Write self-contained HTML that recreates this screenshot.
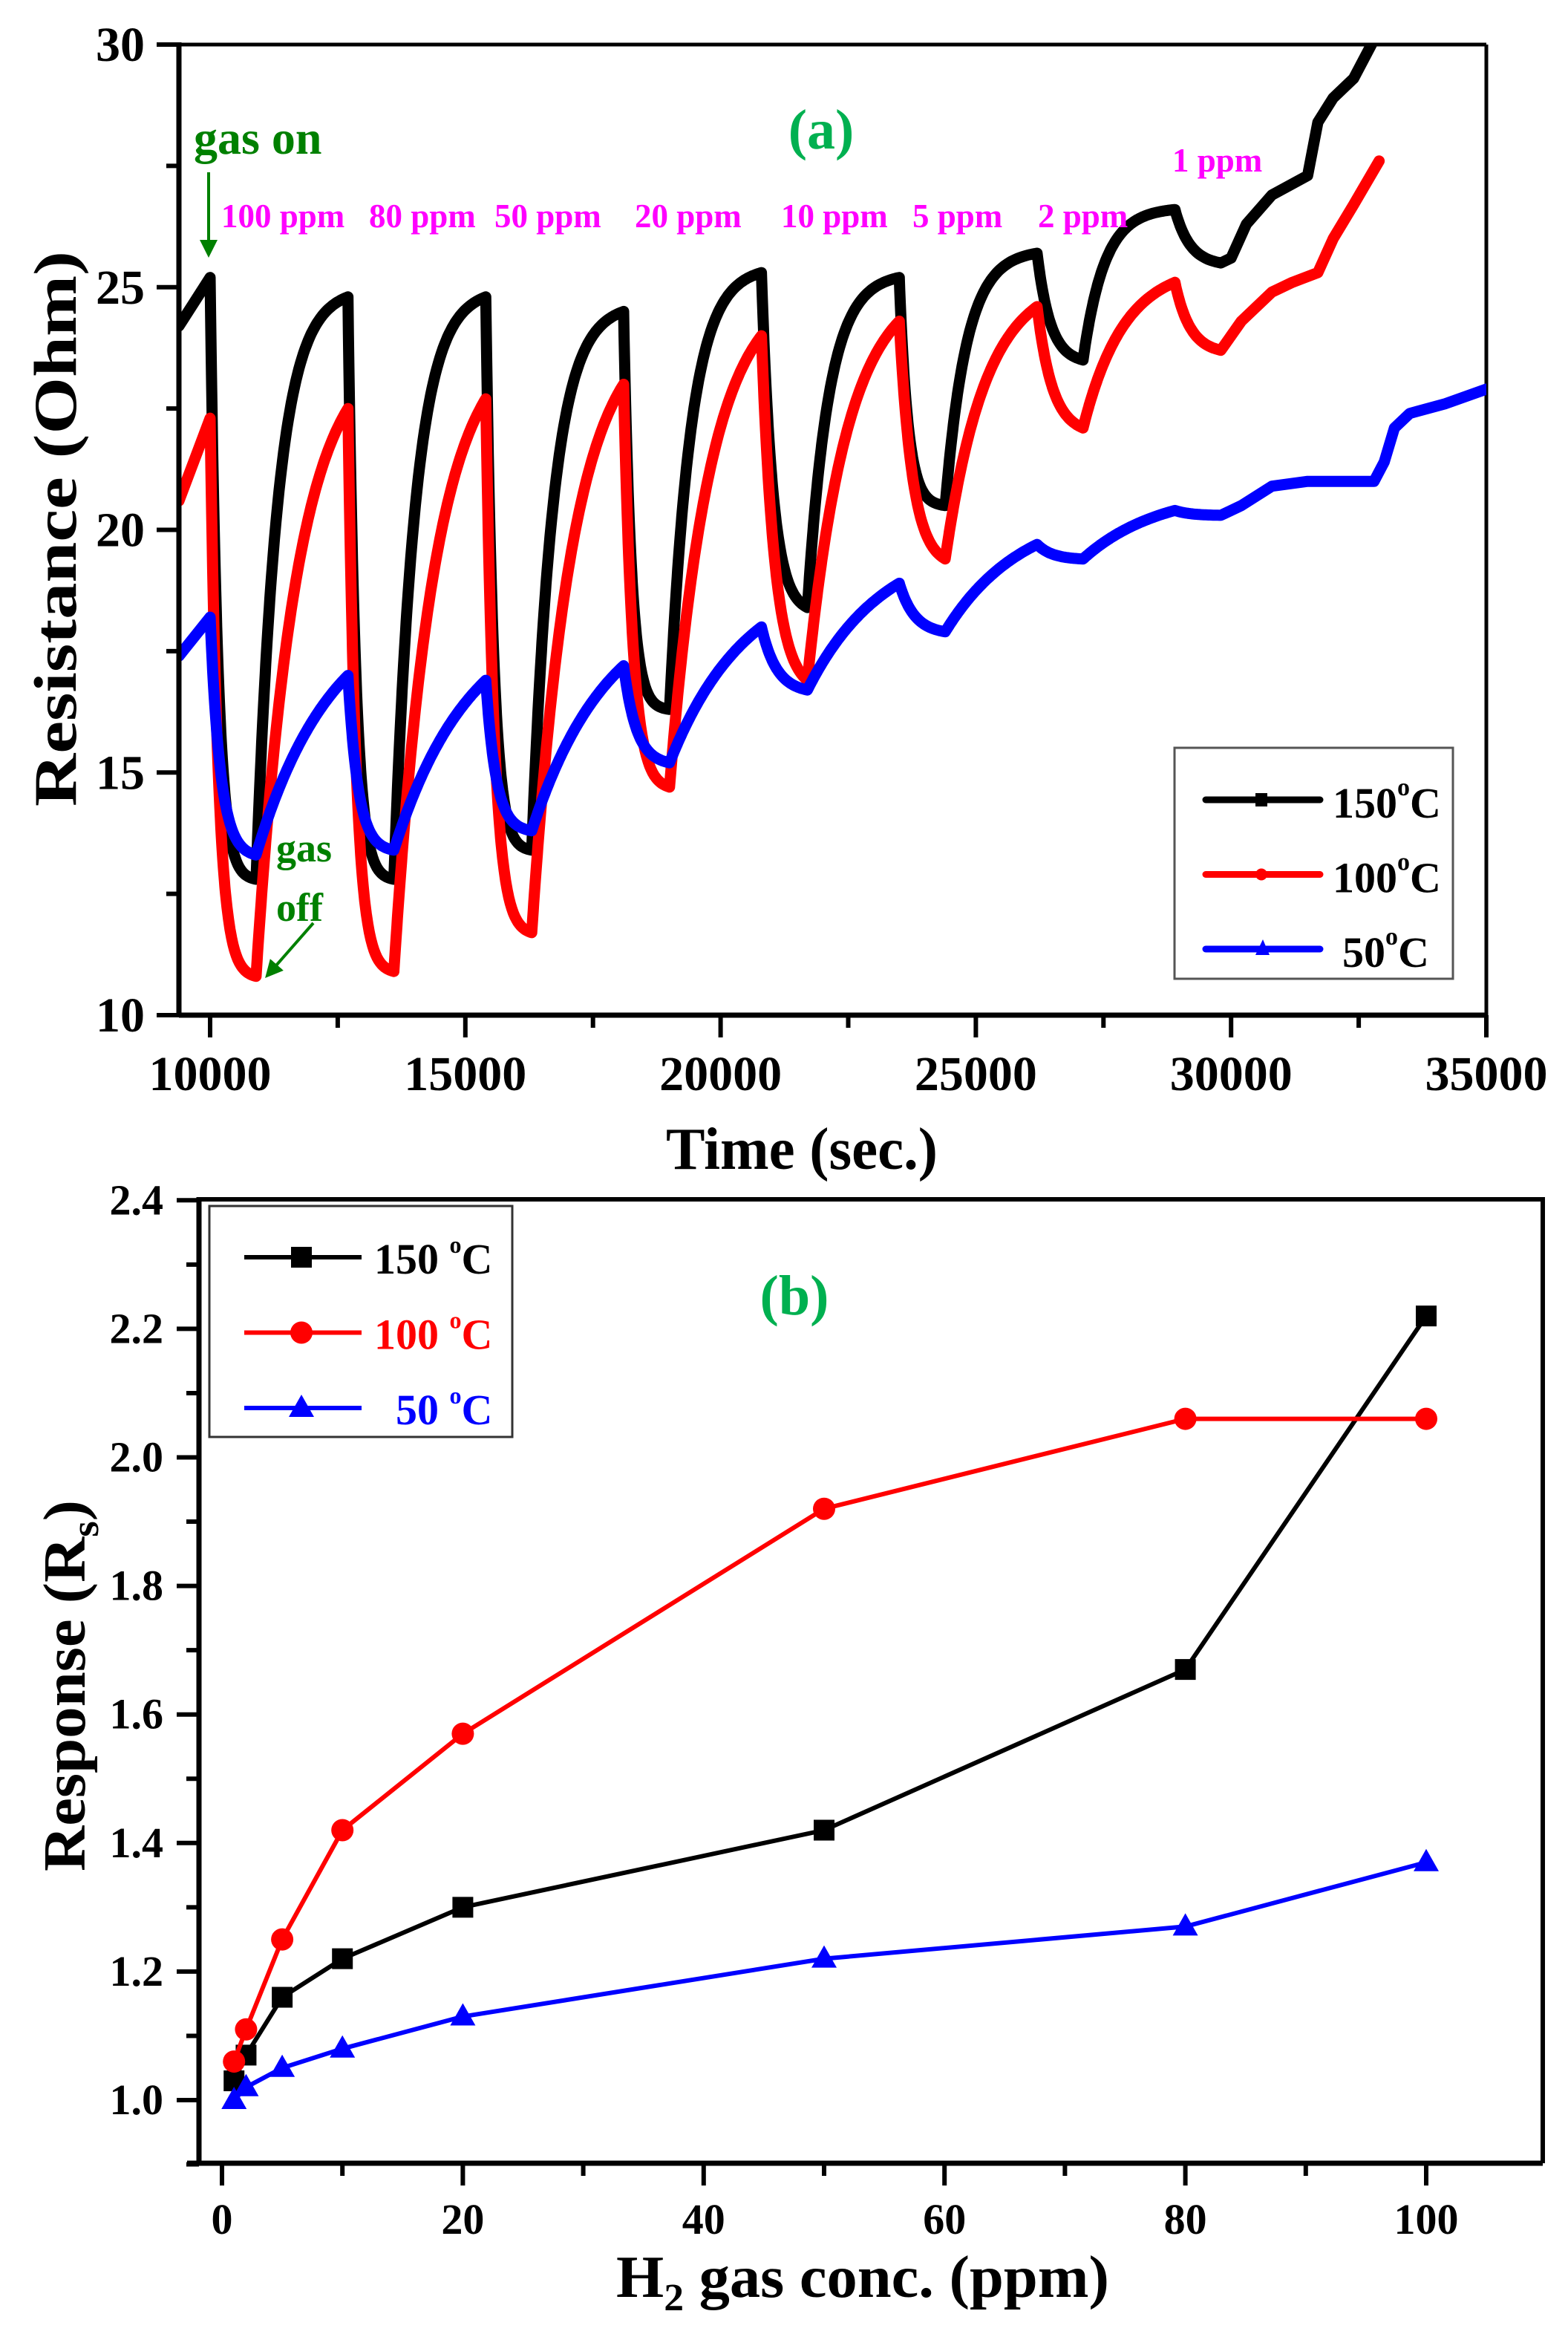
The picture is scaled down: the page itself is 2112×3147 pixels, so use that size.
<!DOCTYPE html>
<html><head><meta charset="utf-8"><style>
html,body{margin:0;padding:0;background:#fff;}
svg{display:block;}
text{font-family:"Liberation Serif",serif;font-weight:bold;}
</style></head><body>
<svg id="fig" width="2112" height="3147" viewBox="0 0 2112 3147" xmlns="http://www.w3.org/2000/svg">
<defs>
<clipPath id="clipA"><rect x="241" y="60" width="1761" height="1307"/></clipPath>
<marker id="arrG" markerWidth="6" markerHeight="6" refX="3" refY="3" orient="auto" markerUnits="strokeWidth"><path d="M0,0 L6,3 L0,6 z" fill="#008000"/></marker>
</defs>
<g id="plotA"></g>
<g id="plotB"></g>
</svg>
<script>
// ---------- Chart (a) data ----------
const gasOnTimes=[10000,12700,15400,18100,20800,23500,26200,28900];
const gasOffTimes=[10900,13600,16300,19000,21700,24400,27100,29800];
const concLabels=["100 ppm","80 ppm","50 ppm","20 ppm","10 ppm","5 ppm","2 ppm","1 ppm"];
const blackStart=24.2;
const blackPeaks=[25.2,24.8,24.8,24.5,25.3,25.2,25.7,26.6];
const blackMins=[12.8,12.8,13.4,16.3,18.4,20.5,23.5,25.5];
const blackTail=[[29800,25.5],[30000,25.6],[30300,26.3],[30800,26.9],[31500,27.3],[31700,28.4],[32000,28.9],[32400,29.3],[32800,30.1],[33000,30.6]];
const redStart=20.6;
const redPeaks=[22.3,22.5,22.7,23.0,24.0,24.3,24.6,25.1];
const redMins=[10.8,10.9,11.7,14.7,16.9,19.4,22.1,23.7];
const redTail=[[29800,23.7],[30200,24.3],[30800,24.9],[31200,25.1],[31700,25.3],[32000,26.0],[32400,26.7],[32900,27.6]];
const blueStart=17.4;
const bluePeaks=[18.2,17.0,16.9,17.2,18.0,18.9,19.7,20.4];
const blueMins=[13.3,13.4,13.8,15.2,16.7,17.9,19.4,20.3];
const blueTail=[[29800,20.3],[30200,20.5],[30800,20.9],[31500,21.0],[32800,21.0],[33000,21.4],[33200,22.1],[33500,22.4],[34200,22.6],[35000,22.9]];
const xTicksA=[10000,15000,20000,25000,30000,35000];
const yTicksA=[10,15,20,25,30];
// ---------- Chart (b) data ----------
const concB=[1,2,5,10,20,50,80,100];
const resp150=[1.03,1.07,1.16,1.22,1.30,1.42,1.67,2.22];
const resp100=[1.06,1.11,1.25,1.42,1.57,1.92,2.06,2.06];
const resp50=[1.00,1.02,1.05,1.08,1.13,1.22,1.27,1.37];
const xTicksB=[0,20,40,60,80,100];
const yTicksB=[1.0,1.2,1.4,1.6,1.8,2.0,2.2,2.4];

const NS="http://www.w3.org/2000/svg";
function mk(parent,tag,attrs,txt){const e=document.createElementNS(NS,tag);for(const k in attrs)e.setAttribute(k,attrs[k]);if(txt!==undefined)e.textContent=txt;parent.appendChild(e);return e;}

const xa=t=>283+(t-10000)/5000*343.8;
const ya=r=>1367-(r-10)*65.35;
const xb=c=>299+c*16.22;
const yb=v=>2828-(v-1)/0.2*173.1;

const A=document.getElementById('plotA');
const B=document.getElementById('plotB');

function buildSeries(start,peaks,mins,tail,tauD,tauR){
  const pts=[[9390,start]];
  pts.push([10000,peaks[0]]);
  for(let i=0;i<gasOnTimes.length;i++){
    const on=gasOnTimes[i],off=gasOffTimes[i],P=peaks[i],M=mins[i];
    const td=tauD[i];
    const D=off-on;
    for(let dt=10;dt<=D;dt+=(dt<300?10:30)){
      const f=(Math.exp(-dt/td)-Math.exp(-D/td))/(1-Math.exp(-D/td));
      pts.push([on+dt,M+(P-M)*f]);
    }
    if(i<gasOnTimes.length-1){
      const nxt=gasOnTimes[i+1],NP=peaks[i+1],T=nxt-off;
      for(let dt=10;dt<=T;dt+=(dt<300?10:30)){
        const f=(1-Math.exp(-dt/tauR))/(1-Math.exp(-T/tauR));
        pts.push([off+dt,M+(NP-M)*f]);
      }
    }
  }
  tail.forEach(p=>pts.push(p));
  return pts;
}

mk(A,'line',{x1:241,y1:60,x2:2002,y2:60,stroke:'#000','stroke-width':5,});
mk(A,'line',{x1:2002,y1:60,x2:2002,y2:1367,stroke:'#000','stroke-width':5,});
const gA=mk(A,'g',{'clip-path':'url(#clipA)',});
const series=[
  {name:'series-150c',color:'#000',pts:buildSeries(blackStart,blackPeaks,blackMins,blackTail,[150,150,150,150,220,170,260,300],420)},
  {name:'series-100c',color:'#ff0000',pts:buildSeries(redStart,redPeaks,redMins,redTail,[160,160,170,180,260,260,300,300],800)},
  {name:'series-50c',color:'#0000ff',pts:buildSeries(blueStart,bluePeaks,blueMins,blueTail,[200,200,200,250,300,300,300,300],1500)}
];
series.forEach(s=>{
  const d=s.pts.map((p,i)=>(i?'L':'M')+xa(p[0]).toFixed(1)+','+ya(p[1]).toFixed(1)).join(' ');
  const el=mk(gA,'path',{d:d,fill:'none',stroke:s.color,'stroke-width':15,'stroke-linejoin':'round','stroke-linecap':'round'});
  
  
});
for(let t=10000;t<=35000;t+=2500){
  const major=(t%5000===0);
  mk(A,'line',{x1:xa(t),y1:1367,x2:xa(t),y2:1367+(major?30:17),stroke:'#000','stroke-width':6});
}
for(let r=10;r<=30;r+=2.5){
  const major=(r%5===0);
  mk(A,'line',{x1:241,y1:ya(r),x2:241-(major?30:17),y2:ya(r),stroke:'#000','stroke-width':6});
}
xTicksA.forEach(t=>{
  const el=mk(A,'text',{x:xa(t),y:1468,'font-size':66,'text-anchor':'middle'},String(t));
  
  
});
yTicksA.forEach(r=>{
  const el=mk(A,'text',{x:195,y:ya(r)+22,'font-size':66,'text-anchor':'end'},String(r));
  
  
});
mk(A,'line',{x1:241,y1:1367,x2:2002,y2:1367,stroke:'#000','stroke-width':7,});
mk(A,'line',{x1:241,y1:57,x2:241,y2:1370,stroke:'#000','stroke-width':7,});
mk(A,'text',{x:1080,y:1574,'font-size':80,'text-anchor':'middle',textLength:366,lengthAdjust:'spacingAndGlyphs',},'Time (sec.)');
mk(A,'text',{x:0,y:0,'font-size':82,'text-anchor':'middle',textLength:748,lengthAdjust:'spacingAndGlyphs',transform:'translate(102,712) rotate(-90)',},'Resistance (Ohm)');
mk(A,'text',{x:1106,y:200,'font-size':76,'text-anchor':'middle',fill:'#00b050',},'(a)');
mk(A,'text',{x:261,y:207,'font-size':64,fill:'#008000',},'gas on');
mk(A,'line',{x1:281,y1:232,x2:281,y2:335,stroke:'#008000','stroke-width':4,'marker-end':'url(#arrG)',});
mk(A,'text',{x:372,y:1160,'font-size':54,fill:'#008000',},'gas');
mk(A,'text',{x:372,y:1240,'font-size':54,fill:'#008000',},'off');
mk(A,'line',{x1:422,y1:1243,x2:365,y2:1308,stroke:'#008000','stroke-width':4,'marker-end':'url(#arrG)',});
const concX=[298,497,666,855,1052,1229,1398,1579];
const concY=[306,306,306,306,306,306,306,231];
concLabels.forEach((l,i)=>{
  const el=mk(A,'text',{x:concX[i],y:concY[i],'font-size':45,fill:'#ff00ff'},l);
  
  
});
const legA=mk(A,'g',{});
mk(legA,'rect',{x:1582,y:1007,width:375,height:311,fill:'#fff',stroke:'#555','stroke-width':3});
const legItemsA=[['150','#000','sq'],['100','#ff0000','ci'],['50','#0000ff','tr']];
legItemsA.forEach((it,i)=>{
  const y=1077+i*100.5;
  const g=mk(legA,'g',{});
  
  
  mk(g,'line',{x1:1624,y1:y,x2:1778,y2:y,stroke:it[1],'stroke-width':9,'stroke-linecap':'round'});
  if(it[2]==='sq')mk(g,'rect',{x:1691,y:y-9,width:16,height:18,fill:it[1]});
  if(it[2]==='ci')mk(g,'circle',{cx:1699,cy:y,r:8,fill:it[1]});
  if(it[2]==='tr')mk(g,'path',{d:`M1701,${y-13} L1710,${y+8} L1691,${y+8} z`,fill:it[1]});
  const tx=(it[0]==='50')?1808:1795;
  const t=mk(g,'text',{x:tx,y:y+24,'font-size':58,fill:'#000'});
  t.appendChild(document.createTextNode(it[0]));
  const sup=document.createElementNS(NS,'tspan');sup.setAttribute('dy',-30);sup.setAttribute('font-size',34);sup.textContent='o';t.appendChild(sup);
  const c=document.createElementNS(NS,'tspan');c.setAttribute('dy',30);c.textContent='C';t.appendChild(c);
});

// ---------- plot (b) ----------
mk(B,'line',{x1:268,y1:1615,x2:2078,y2:1615,stroke:'#000','stroke-width':6,});
mk(B,'line',{x1:2078,y1:1612,x2:2078,y2:2913,stroke:'#000','stroke-width':6,});
for(let c=0;c<=110;c+=10){
  const major=(c%20===0);
  if(xb(c)>2078)continue;
  mk(B,'line',{x1:xb(c),y1:2913,x2:xb(c),y2:2913+(major?30:17),stroke:'#000','stroke-width':6});
}
for(let k=0;k<=15;k++){
  const v=0.9+k*0.1;const major=(k%2===1);
  mk(B,'line',{x1:268,y1:yb(v),x2:268-(major?30:17),y2:yb(v),stroke:'#000','stroke-width':6});
}
mk(B,'line',{x1:252,y1:2913,x2:2078,y2:2913,stroke:'#000','stroke-width':7,});
mk(B,'line',{x1:268,y1:1612,x2:268,y2:2916,stroke:'#000','stroke-width':7,});
xTicksB.forEach(c=>{
  const el=mk(B,'text',{x:xb(c),y:3008,'font-size':58,'text-anchor':'middle'},String(c));
  
  
});
yTicksB.forEach(v=>{
  const el=mk(B,'text',{x:220,y:yb(v)+19,'font-size':58,'text-anchor':'end'},v.toFixed(1));
  
  
});
const tb=mk(B,'text',{x:1162,y:3093,'font-size':80,'text-anchor':'middle',textLength:664,lengthAdjust:'spacingAndGlyphs',});
tb.appendChild(document.createTextNode('H'));
{const s=document.createElementNS(NS,'tspan');s.setAttribute('dy',18);s.setAttribute('font-size',52);s.textContent='2';tb.appendChild(s);
 const s2=document.createElementNS(NS,'tspan');s2.setAttribute('dy',-18);s2.textContent=' gas conc. (ppm)';tb.appendChild(s2);}
const ty=mk(B,'text',{x:0,y:0,'font-size':80,'text-anchor':'middle',textLength:500,lengthAdjust:'spacingAndGlyphs',transform:'translate(114,2270) rotate(-90)',});
ty.appendChild(document.createTextNode('Response (R'));
{const s=document.createElementNS(NS,'tspan');s.setAttribute('dy',18);s.setAttribute('font-size',52);s.textContent='s';ty.appendChild(s);
 const s2=document.createElementNS(NS,'tspan');s2.setAttribute('dy',-18);s2.textContent=')';ty.appendChild(s2);}
mk(B,'text',{x:1070,y:1770,'font-size':76,'text-anchor':'middle',fill:'#00b050',},'(b)');

const seriesB=[
  {name:'series-b-150c',color:'#000',vals:resp150,m:'sq'},
  {name:'series-b-100c',color:'#ff0000',vals:resp100,m:'ci'},
  {name:'series-b-50c',color:'#0000ff',vals:resp50,m:'tr'}
];
function marker(g,type,x,y,color){
  if(type==='sq')return mk(g,'rect',{x:x-14,y:y-14,width:28,height:28,fill:color});
  if(type==='ci')return mk(g,'circle',{cx:x,cy:y,r:15,fill:color});
  return mk(g,'path',{d:`M${x},${y-18} L${x+17},${y+12} L${x-17},${y+12} z`,fill:color});
}
seriesB.forEach(s=>{
  const g=mk(B,'g',{});
  
  
  const pts=concB.map((c,i)=>xb(c).toFixed(1)+','+yb(s.vals[i]).toFixed(1)).join(' ');
  const pl=mk(g,'polyline',{points:pts,fill:'none',stroke:s.color,'stroke-width':6});
  
  
  concB.forEach((c,i)=>{
    const m=marker(g,s.m,xb(c),yb(s.vals[i]),s.color);
    
    
  });
});
const legB=mk(B,'g',{});
mk(legB,'rect',{x:282,y:1624,width:408,height:311,fill:'#fff',stroke:'#333','stroke-width':3});
seriesB.forEach((s,i)=>{
  const y=1693+i*101.5;
  const g=mk(legB,'g',{});
  
  
  mk(g,'line',{x1:329,y1:y,x2:487,y2:y,stroke:s.color,'stroke-width':6});
  marker(g,s.m,406,y,s.color);
  const lab=['150','100','50'][i];
  const t=mk(g,'text',{x:(lab==='50'?533:504),y:y+22,'font-size':58,fill:s.color});
  t.appendChild(document.createTextNode(lab+' '));
  const sup=document.createElementNS(NS,'tspan');sup.setAttribute('dy',-28);sup.setAttribute('font-size',32);sup.textContent='o';t.appendChild(sup);
  const c=document.createElementNS(NS,'tspan');c.setAttribute('dy',28);c.textContent='C';t.appendChild(c);
});
</script>
</body></html>
